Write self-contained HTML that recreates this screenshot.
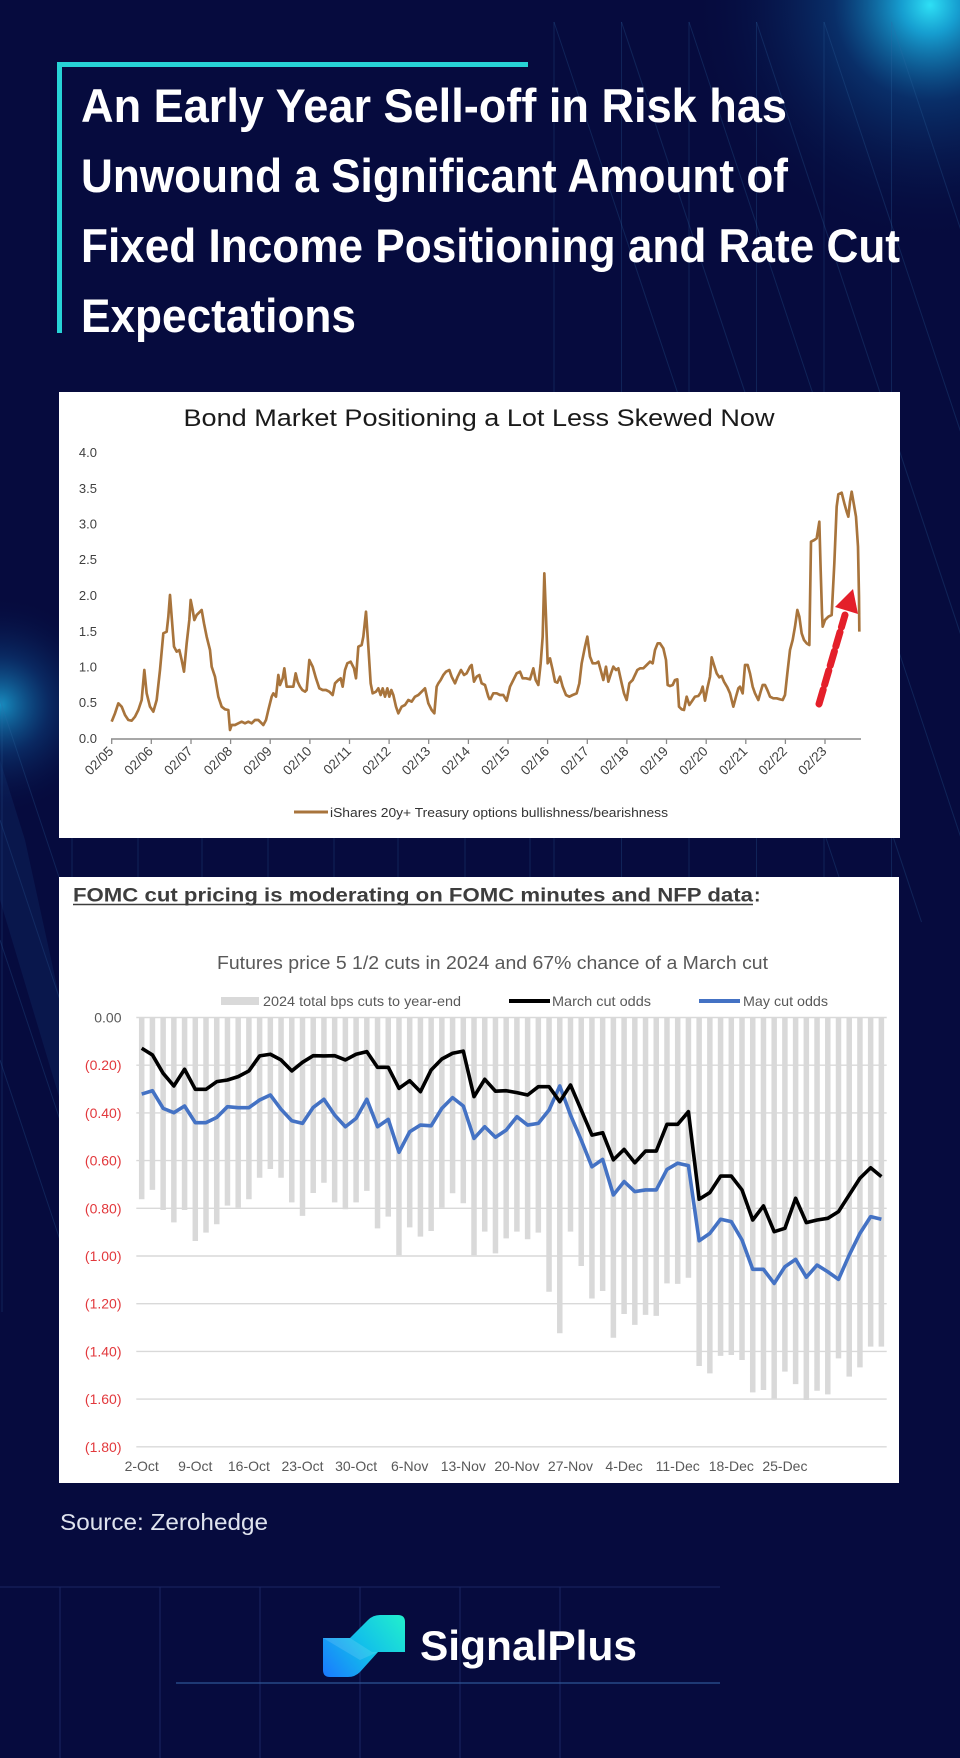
<!DOCTYPE html>
<html><head><meta charset="utf-8"><style>
html,body{margin:0;padding:0;background:#060b3e;}
svg{display:block;}
</style></head><body>
<svg width="960" height="1758" viewBox="0 0 960 1758" xmlns="http://www.w3.org/2000/svg">
<defs>
<radialGradient id="gTR" cx="930" cy="5" r="240" gradientUnits="userSpaceOnUse">
<stop offset="0" stop-color="#2ee0f5" stop-opacity="1"/>
<stop offset="0.12" stop-color="#18aee0" stop-opacity="0.9"/>
<stop offset="0.4" stop-color="#0d5a9c" stop-opacity="0.45"/>
<stop offset="1" stop-color="#060b3e" stop-opacity="0"/>
</radialGradient>
<radialGradient id="gL" cx="0" cy="705" r="110" gradientUnits="userSpaceOnUse">
<stop offset="0" stop-color="#1aa6d8" stop-opacity="0.85"/>
<stop offset="0.45" stop-color="#0f5596" stop-opacity="0.4"/>
<stop offset="1" stop-color="#060b3e" stop-opacity="0"/>
</radialGradient>
<linearGradient id="gLogo" x1="405" y1="1615" x2="323" y2="1677" gradientUnits="userSpaceOnUse">
<stop offset="0" stop-color="#22f0cc"/>
<stop offset="0.5" stop-color="#12c0ea"/>
<stop offset="1" stop-color="#1a78ff"/>
</linearGradient>
</defs>

<rect x="0" y="0" width="960" height="1758" fill="#060b3e"/>
<rect x="0" y="0" width="960" height="500" fill="url(#gTR)"/>
<rect x="0" y="560" width="200" height="300" fill="url(#gL)"/>

<!-- background lines -->
<g stroke="#2f6aa8" stroke-opacity="0.25" stroke-width="1" fill="none">
<line x1="554" y1="22" x2="554" y2="900"/>
<line x1="621.5" y1="22" x2="621.5" y2="900"/>
<line x1="689" y1="22" x2="689" y2="900"/>
<line x1="756.5" y1="22" x2="756.5" y2="900"/>
<line x1="824" y1="22" x2="824" y2="900"/>
<line x1="891.5" y1="22" x2="891.5" y2="900"/>
<line x1="554" y1="22" x2="854" y2="922"/>
<line x1="621.5" y1="22" x2="921.5" y2="922"/>
<line x1="689" y1="22" x2="989" y2="922"/>
<line x1="756.5" y1="22" x2="1056.5" y2="922"/>
<line x1="824" y1="22" x2="1124" y2="922"/>
<line x1="891.5" y1="22" x2="1191.5" y2="922"/>
<line x1="2" y1="695" x2="2" y2="1312"/>
<line x1="0" y1="700" x2="60" y2="880"/>
<line x1="0" y1="820" x2="60" y2="1000"/>
<line x1="0" y1="940" x2="60" y2="1120"/>
<line x1="0" y1="1060" x2="60" y2="1240"/>
<line x1="72" y1="838" x2="72" y2="878"/>
<line x1="138" y1="838" x2="138" y2="878"/>
<line x1="202" y1="838" x2="202" y2="878"/>
<line x1="268" y1="838" x2="268" y2="878"/>
<line x1="334" y1="838" x2="334" y2="878"/>
<line x1="398" y1="838" x2="398" y2="878"/>
<line x1="465" y1="838" x2="465" y2="878"/>
<line x1="530" y1="838" x2="530" y2="878"/>
</g>
<polygon points="0,760 25,840 60,1000 60,1100 30,1000 0,900" fill="#1a4f8f" fill-opacity="0.18"/>

<!-- title frame -->
<rect x="57" y="62" width="471" height="5" fill="#27d3d6"/>
<rect x="57" y="62" width="5" height="271" fill="#27d3d6"/>
<g font-family="Liberation Sans, sans-serif" font-weight="bold" font-size="47" fill="#ffffff">
<text x="81" y="122" textLength="706" lengthAdjust="spacingAndGlyphs">An Early Year Sell-off in Risk has</text>
<text x="81" y="192" textLength="707" lengthAdjust="spacingAndGlyphs">Unwound a Significant Amount of</text>
<text x="81" y="262" textLength="819" lengthAdjust="spacingAndGlyphs">Fixed Income Positioning and Rate Cut</text>
<text x="81" y="332" textLength="275" lengthAdjust="spacingAndGlyphs">Expectations</text>
</g>

<!-- CHART 1 -->
<rect x="59" y="392" width="841" height="446" fill="#ffffff"/>
<text x="479" y="426" text-anchor="middle" font-family="Liberation Sans, sans-serif" font-size="24" fill="#1a1a1a" textLength="591" lengthAdjust="spacingAndGlyphs">Bond Market Positioning a Lot Less Skewed Now</text>
<g font-family="Liberation Sans, sans-serif" font-size="13" fill="#404040" text-anchor="end">
<text x="97" y="743">0.0</text>
<text x="97" y="707">0.5</text>
<text x="97" y="671.5">1.0</text>
<text x="97" y="636">1.5</text>
<text x="97" y="600">2.0</text>
<text x="97" y="564">2.5</text>
<text x="97" y="528.5">3.0</text>
<text x="97" y="493">3.5</text>
<text x="97" y="457">4.0</text>
</g>
<line x1="111" y1="739" x2="861" y2="739" stroke="#8a8a8a" stroke-width="1.5"/>
<g stroke="#8a8a8a" stroke-width="1.3">
<line x1="111.7" y1="739" x2="111.7" y2="744"/><line x1="151.3" y1="739" x2="151.3" y2="744"/>
<line x1="191" y1="739" x2="191" y2="744"/><line x1="230.6" y1="739" x2="230.6" y2="744"/>
<line x1="270.2" y1="739" x2="270.2" y2="744"/><line x1="309.9" y1="739" x2="309.9" y2="744"/>
<line x1="349.5" y1="739" x2="349.5" y2="744"/><line x1="389.1" y1="739" x2="389.1" y2="744"/>
<line x1="428.7" y1="739" x2="428.7" y2="744"/><line x1="468.4" y1="739" x2="468.4" y2="744"/>
<line x1="508" y1="739" x2="508" y2="744"/><line x1="547.6" y1="739" x2="547.6" y2="744"/>
<line x1="587.3" y1="739" x2="587.3" y2="744"/><line x1="626.9" y1="739" x2="626.9" y2="744"/>
<line x1="666.5" y1="739" x2="666.5" y2="744"/><line x1="706.2" y1="739" x2="706.2" y2="744"/>
<line x1="745.8" y1="739" x2="745.8" y2="744"/><line x1="785.4" y1="739" x2="785.4" y2="744"/>
<line x1="825" y1="739" x2="825" y2="744"/>
</g>
<g font-family="Liberation Sans, sans-serif" font-size="13.5" fill="#404040" text-anchor="end">
<text transform="translate(114.2,752) rotate(-45)">02/05</text>
<text transform="translate(153.8,752) rotate(-45)">02/06</text>
<text transform="translate(193.5,752) rotate(-45)">02/07</text>
<text transform="translate(233.1,752) rotate(-45)">02/08</text>
<text transform="translate(272.7,752) rotate(-45)">02/09</text>
<text transform="translate(312.4,752) rotate(-45)">02/10</text>
<text transform="translate(352,752) rotate(-45)">02/11</text>
<text transform="translate(391.6,752) rotate(-45)">02/12</text>
<text transform="translate(431.2,752) rotate(-45)">02/13</text>
<text transform="translate(470.9,752) rotate(-45)">02/14</text>
<text transform="translate(510.5,752) rotate(-45)">02/15</text>
<text transform="translate(550.1,752) rotate(-45)">02/16</text>
<text transform="translate(589.8,752) rotate(-45)">02/17</text>
<text transform="translate(629.4,752) rotate(-45)">02/18</text>
<text transform="translate(669,752) rotate(-45)">02/19</text>
<text transform="translate(708.7,752) rotate(-45)">02/20</text>
<text transform="translate(748.3,752) rotate(-45)">02/21</text>
<text transform="translate(787.9,752) rotate(-45)">02/22</text>
<text transform="translate(827.5,752) rotate(-45)">02/23</text>
</g>
<g transform="translate(100,430) scale(0.333333)">
<polyline fill="none" stroke="#a8743c" stroke-width="8" stroke-linejoin="round" points="35,875 45,850 55,820 65,830 75,855 85,870 95,872 105,860 115,840 125,810 133,720 140,790 150,830 160,845 170,810 180,720 190,610 200,605 205,560 210,495 215,560 222,650 230,665 238,660 245,690 252,725 260,640 268,570 272,510 278,540 283,570 290,555 300,545 305,540 312,580 320,620 330,660 335,710 345,740 355,800 365,830 375,838 385,840 390,900 395,885 405,885 415,880 425,875 435,880 445,875 455,880 465,870 475,870 485,880 490,885 498,870 505,840 515,800 520,790 528,800 535,735 540,765 548,745 553,715 560,770 570,770 580,770 587,730 593,755 600,770 607,780 615,785 620,780 628,690 638,710 648,745 658,775 668,780 678,780 688,785 698,795 705,760 715,750 722,745 728,770 735,720 742,700 752,695 762,715 768,745 775,650 785,645 790,620 798,545 805,650 812,760 818,790 828,785 835,775 842,795 848,775 855,800 862,775 868,800 874,780 880,795 888,830 895,850 905,830 915,825 925,810 935,815 945,800 955,795 965,785 975,775 985,820 995,840 1003,850 1010,770 1015,760 1022,750 1030,735 1038,725 1048,720 1055,740 1065,760 1073,740 1083,720 1092,735 1100,730 1110,710 1115,705 1122,755 1130,740 1138,735 1145,760 1155,765 1165,800 1170,810"/>
</g>
<g transform="translate(480,430) scale(0.333333)">
<polyline fill="none" stroke="#a8743c" stroke-width="8" stroke-linejoin="round" points="30,810 40,790 50,790 60,795 70,795 80,812 90,770 100,750 110,730 120,725 128,745 138,745 150,748 160,715 167,750 175,765 182,700 188,620 193,430 198,560 203,700 210,685 218,720 225,755 232,758 240,740 248,770 258,795 268,800 278,795 290,790 298,760 305,700 315,650 322,620 330,680 338,700 348,700 355,695 362,720 370,750 378,710 385,755 393,730 400,710 408,720 415,715 425,760 432,790 440,810 448,760 458,750 465,735 472,720 480,715 490,715 500,705 510,695 518,700 525,660 533,640 540,640 550,655 558,690 563,765 570,768 578,765 585,750 592,748 597,830 605,838 612,840 620,800 628,825 635,815 645,800 655,798 662,788 668,770 675,812 682,775 690,740 695,682 702,705 710,730 718,742 725,738 732,755 742,772 750,790 760,830 768,800 775,775 780,770 788,790 795,705 803,705 810,730 818,770 825,790 835,810 842,785 848,765 855,765 862,780 870,800 880,805 890,805 900,808 908,810 915,795 922,730 930,660 938,630 945,590 952,540 958,560 965,610 972,630 980,640 988,645 993,335 1003,330 1010,325 1018,275 1022,420 1026,550 1028,590 1035,570 1045,560 1055,555 1063,400 1070,230 1075,193 1085,188 1093,220 1100,245 1105,260 1110,215 1115,185 1122,225 1128,260 1134,350 1137,500 1138,605"/>
</g>
<!-- red arrow -->
<line x1="819" y1="704" x2="845" y2="615" stroke="#5a9ad8" stroke-width="2"/>
<line x1="819" y1="704" x2="845" y2="615" stroke="#e41f2a" stroke-width="7" stroke-dasharray="15 5" stroke-linecap="round"/>
<polygon points="835,607 853,589 858,614" fill="#e41f2a"/>
<!-- legend 1 -->
<line x1="294" y1="812" x2="328" y2="812" stroke="#a8743c" stroke-width="3"/>
<text x="330" y="817" font-family="Liberation Sans, sans-serif" font-size="13" fill="#333333" textLength="338" lengthAdjust="spacingAndGlyphs">iShares 20y+ Treasury options bullishness/bearishness</text>

<!-- CHART 2 -->
<rect x="59" y="877" width="840" height="606" fill="#ffffff"/>
<text x="73" y="901.5" font-family="Liberation Sans, sans-serif" font-weight="bold" font-size="19.5" fill="#3d3d3d" textLength="680" lengthAdjust="spacingAndGlyphs">FOMC cut pricing is moderating on FOMC minutes and NFP data</text>
<text x="754" y="901.5" font-family="Liberation Sans, sans-serif" font-weight="bold" font-size="19.5" fill="#3d3d3d">:</text>
<line x1="73" y1="904.5" x2="753" y2="904.5" stroke="#3d3d3d" stroke-width="1.6"/>
<text x="217" y="969" font-family="Liberation Sans, sans-serif" font-size="18.5" fill="#595959" textLength="551" lengthAdjust="spacingAndGlyphs">Futures price 5 1/2 cuts in 2024 and 67% chance of a March cut</text>
<!-- legend 2 -->
<rect x="221" y="997" width="38" height="8" fill="#d9d9d9"/>
<text x="263" y="1006" font-family="Liberation Sans, sans-serif" font-size="14" fill="#595959" textLength="198" lengthAdjust="spacingAndGlyphs">2024 total bps cuts to year-end</text>
<line x1="509" y1="1001" x2="550" y2="1001" stroke="#000000" stroke-width="4"/>
<text x="552" y="1006" font-family="Liberation Sans, sans-serif" font-size="14" fill="#595959" textLength="99" lengthAdjust="spacingAndGlyphs">March cut odds</text>
<line x1="699" y1="1001" x2="740" y2="1001" stroke="#4472c4" stroke-width="4"/>
<text x="743" y="1006" font-family="Liberation Sans, sans-serif" font-size="14" fill="#595959" textLength="85" lengthAdjust="spacingAndGlyphs">May cut odds</text>
<!-- gridlines -->
<g stroke="#d9d9d9" stroke-width="1.4">
<line x1="136.3" y1="1017.5" x2="886.7" y2="1017.5"/>
<line x1="136.3" y1="1065.2" x2="886.7" y2="1065.2"/>
<line x1="136.3" y1="1112.9" x2="886.7" y2="1112.9"/>
<line x1="136.3" y1="1160.6" x2="886.7" y2="1160.6"/>
<line x1="136.3" y1="1208.3" x2="886.7" y2="1208.3"/>
<line x1="136.3" y1="1256" x2="886.7" y2="1256"/>
<line x1="136.3" y1="1303.7" x2="886.7" y2="1303.7"/>
<line x1="136.3" y1="1351.4" x2="886.7" y2="1351.4"/>
<line x1="136.3" y1="1399.1" x2="886.7" y2="1399.1"/>
<line x1="136.3" y1="1446.8" x2="886.7" y2="1446.8"/>
</g>
<g font-family="Liberation Sans, sans-serif" font-size="14" text-anchor="end" fill="#e2383c">
<text x="121.5" y="1022.5" fill="#595959">0.00</text>
<text x="121.5" y="1070.2">(0.20)</text>
<text x="121.5" y="1117.9">(0.40)</text>
<text x="121.5" y="1165.6">(0.60)</text>
<text x="121.5" y="1213.3">(0.80)</text>
<text x="121.5" y="1261">(1.00)</text>
<text x="121.5" y="1308.7">(1.20)</text>
<text x="121.5" y="1356.4">(1.40)</text>
<text x="121.5" y="1404.1">(1.60)</text>
<text x="121.5" y="1451.8">(1.80)</text>
</g>
<g font-family="Liberation Sans, sans-serif" font-size="14" text-anchor="middle" fill="#595959">
<text x="141.7" y="1471">2-Oct</text>
<text x="195.3" y="1471">9-Oct</text>
<text x="248.9" y="1471">16-Oct</text>
<text x="302.5" y="1471">23-Oct</text>
<text x="356.1" y="1471">30-Oct</text>
<text x="409.7" y="1471">6-Nov</text>
<text x="463.3" y="1471">13-Nov</text>
<text x="516.9" y="1471">20-Nov</text>
<text x="570.5" y="1471">27-Nov</text>
<text x="624.1" y="1471">4-Dec</text>
<text x="677.7" y="1471">11-Dec</text>
<text x="731.3" y="1471">18-Dec</text>
<text x="784.9" y="1471">25-Dec</text>
</g>
<g transform="translate(141.7,1017.5) scale(10.72,238.5)">
<path fill="none" stroke="#d9d9d9" stroke-width="5.5" vector-effect="non-scaling-stroke" d="M0 0V0.762M1 0V0.723M2 0V0.807M3 0V0.859M4 0V0.807M5 0V0.937M6 0V0.902M7 0V0.867M8 0V0.789M9 0V0.797M10 0V0.762M11 0V0.672M12 0V0.635M13 0V0.672M14 0V0.775M15 0V0.832M16 0V0.736M17 0V0.693M18 0V0.775M19 0V0.804M20 0V0.775M21 0V0.727M22 0V0.884M23 0V0.835M24 0V0.997M25 0V0.880M26 0V0.919M27 0V0.895M28 0V0.797M29 0V0.737M30 0V0.779M31 0V0.997M32 0V0.898M33 0V0.989M34 0V0.926M35 0V0.898M36 0V0.930M37 0V0.902M38 0V1.150M39 0V1.324M40 0V0.898M41 0V1.042M42 0V1.178M43 0V1.147M44 0V1.343M45 0V1.243M46 0V1.289M47 0V1.247M48 0V1.251M49 0V1.115M50 0V1.117M51 0V1.091M52 0V1.461M53 0V1.492M54 0V1.419M55 0V1.415M56 0V1.436M57 0V1.572M58 0V1.562M59 0V1.597M60 0V1.485M61 0V1.537M62 0V1.604M63 0V1.565M64 0V1.580M65 0V1.429M66 0V1.506M67 0V1.467M68 0V1.380M69 0V1.380"/>
<polyline fill="none" stroke="#4472c4" stroke-width="3.6" stroke-linejoin="round" vector-effect="non-scaling-stroke" points="0,0.321 1,0.307 2,0.381 3,0.399 4,0.371 5,0.441 6,0.441 7,0.419 8,0.374 9,0.378 10,0.378 11,0.346 12,0.325 13,0.385 14,0.433 15,0.444 16,0.377 17,0.343 18,0.409 19,0.458 20,0.423 21,0.343 22,0.458 23,0.427 24,0.565 25,0.479 26,0.451 27,0.454 28,0.381 29,0.336 30,0.371 31,0.507 32,0.458 33,0.502 34,0.472 35,0.416 36,0.451 37,0.444 38,0.388 39,0.287 40,0.409 41,0.514 42,0.626 43,0.595 44,0.744 45,0.688 46,0.730 47,0.723 48,0.723 49,0.637 50,0.611 51,0.621 52,0.936 53,0.905 54,0.846 55,0.856 56,0.933 57,1.056 58,1.056 59,1.115 60,1.045 61,1.014 62,1.089 63,1.038 64,1.066 65,1.098 66,0.996 67,0.905 68,0.835 69,0.846"/>
<polyline fill="none" stroke="#000000" stroke-width="3.6" stroke-linejoin="round" vector-effect="non-scaling-stroke" points="0,0.129 1,0.157 2,0.234 3,0.287 4,0.217 5,0.301 6,0.301 7,0.269 8,0.262 9,0.248 10,0.224 11,0.161 12,0.154 13,0.178 14,0.224 15,0.188 16,0.160 17,0.161 18,0.160 19,0.178 20,0.154 21,0.143 22,0.209 23,0.209 24,0.297 25,0.265 26,0.311 27,0.220 28,0.174 29,0.150 30,0.141 31,0.332 32,0.259 33,0.309 34,0.307 35,0.315 36,0.325 37,0.290 38,0.290 39,0.353 40,0.283 41,0.388 42,0.493 43,0.483 44,0.597 45,0.553 46,0.609 47,0.560 48,0.560 49,0.448 50,0.448 51,0.395 52,0.762 53,0.734 54,0.665 55,0.665 56,0.723 57,0.849 58,0.790 59,0.898 60,0.884 61,0.758 62,0.860 63,0.849 64,0.842 65,0.814 66,0.744 67,0.674 68,0.630 69,0.667"/>
</g>

<!-- source -->
<text x="60" y="1530" font-family="Liberation Sans, sans-serif" font-size="23" fill="#dfe3ee" textLength="208" lengthAdjust="spacingAndGlyphs">Source: Zerohedge</text>

<!-- bottom grid -->
<g stroke="#1a2463" stroke-width="1">
<line x1="0" y1="1587" x2="720" y2="1587"/>
<line x1="60" y1="1587" x2="60" y2="1758"/>
<line x1="160" y1="1587" x2="160" y2="1758"/>
<line x1="260" y1="1587" x2="260" y2="1758"/>
<line x1="360" y1="1587" x2="360" y2="1758"/>
<line x1="460" y1="1587" x2="460" y2="1758"/>
<line x1="560" y1="1587" x2="560" y2="1758"/>
</g>
<line x1="176" y1="1683" x2="720" y2="1683" stroke="#2d5595" stroke-width="1.2"/>

<!-- logo -->
<path d="M323,1638 L350,1638 L368,1620 Q373,1615 380,1615 L398,1615 Q405,1615 405,1622 L405,1652 L378,1652 L360,1672 Q355,1677 348,1677 L330,1677 Q323,1677 323,1670 Z" fill="url(#gLogo)"/>
<path d="M323,1638 L350,1638 L372,1652 L405,1652 L378,1652 L360,1660 Z" fill="#ffffff" fill-opacity="0.12"/>
<text x="420" y="1660" font-family="Liberation Sans, sans-serif" font-weight="bold" font-size="42" fill="#ffffff" textLength="217" lengthAdjust="spacingAndGlyphs">SignalPlus</text>
</svg>
</body></html>
